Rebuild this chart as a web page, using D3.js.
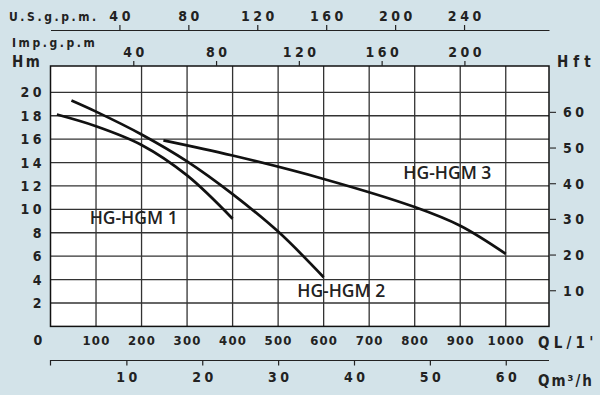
<!DOCTYPE html>
<html>
<head>
<meta charset="utf-8">
<script src="https://cdn.jsdelivr.net/npm/d3@7"></script>
<style>
  body { margin: 0; background: #d3e3e9; overflow: hidden; }
  svg { display: block; }
  .num { font-family: "DejaVu Sans Condensed", "DejaVu Sans", sans-serif; font-weight: bold; font-size: 13px; fill: #222; }
  .unit { font-family: "DejaVu Sans Condensed", "DejaVu Sans", sans-serif; font-weight: bold; fill: #222; }
  .curve-label { font-family: "Open Sans", sans-serif; font-weight: 600; font-size: 17.5px; fill: #222; }
</style>
</head>
<body>
<div id="chart"></div>
<script>
// flow in L/min, head in m
const hgm1Flow = [14, 100, 200, 300, 400];
const hgm1Head = [18.1, 17.1, 15.5, 12.9, 9.2];
const hgm2Flow = [46, 100, 200, 300, 400, 500, 600];
const hgm2Head = [19.3, 18.35, 16.4, 14.1, 11.3, 8.1, 4.2];
const hgm3Flow = [248, 400, 600, 800, 900, 1000];
const hgm3Head = [15.9, 14.6, 12.6, 10.2, 8.6, 6.2];

const curveNames = ["HG-HGM 1", "HG-HGM 2", "HG-HGM 3"];
const labelFlow = [86, 542, 775];   // where the name starts (L/min, head m)
const labelHead = [9.3, 3.0, 13.1];

const flowTicks = [100, 200, 300, 400, 500, 600, 700, 800, 900, 1000];
const headTicks = [2, 4, 6, 8, 10, 12, 14, 16, 18, 20];
const ftTicks = [10, 20, 30, 40, 50, 60];
const usTicks = [40, 80, 120, 160, 200, 240];
const impTicks = [40, 80, 120, 160, 200];
const m3hTicks = [10, 20, 30, 40, 50, 60];

const W = 600, H = 395;
const x = d3.scaleLinear().domain([0, 1095]).range([50.5, 549]);
const y = d3.scaleLinear().domain([0, 22.25]).range([326.4, 66]);

const svg = d3.select("#chart").append("svg")
    .attr("width", W)
    .attr("height", H);

// plot area
svg.append("rect")
    .attr("x", x(0)).attr("y", y(22.25))
    .attr("width", x(1095) - x(0))
    .attr("height", y(0) - y(22.25))
    .attr("fill", "#fff");

svg.append("g")
    .selectAll("line")
    .data(flowTicks)
    .enter()
    .append("line")
    .attr("x1", d => x(d)).attr("x2", d => x(d))
    .attr("y1", y(0)).attr("y2", y(22.25))
    .attr("stroke", "#333").attr("stroke-width", 1.3);

svg.append("g")
    .selectAll("line")
    .data(headTicks)
    .enter()
    .append("line")
    .attr("x1", x(0)).attr("x2", x(1095))
    .attr("y1", d => y(d)).attr("y2", d => y(d))
    .attr("stroke", "#333").attr("stroke-width", 1.3);

svg.append("rect")
    .attr("x", x(0)).attr("y", y(22.25))
    .attr("width", x(1095) - x(0))
    .attr("height", y(0) - y(22.25))
    .attr("fill", "none")
    .attr("stroke", "#111").attr("stroke-width", 1.5);

// curves
const line = d3.line()
    .x(d => x(d[0]))
    .y(d => y(d[1]))
    .curve(d3.curveCatmullRom.alpha(0.5));

const curves = [
    d3.zip(hgm1Flow, hgm1Head),
    d3.zip(hgm2Flow, hgm2Head),
    d3.zip(hgm3Flow, hgm3Head)
];

svg.append("g")
    .selectAll("path")
    .data(curves)
    .enter()
    .append("path")
    .attr("d", line)
    .attr("fill", "none")
    .attr("stroke", "#111")
    .attr("stroke-width", 2.7);

svg.append("g")
    .selectAll("text")
    .data(curveNames)
    .enter()
    .append("text")
    .attr("class", "curve-label")
    .attr("x", (d, i) => x(labelFlow[i]))
    .attr("y", (d, i) => y(labelHead[i]))
    .attr("dy", "0.35em")
    .text(d => d);

// left Hm labels
svg.append("g")
    .selectAll("text")
    .data(headTicks)
    .enter()
    .append("text")
    .attr("class", "num")
    .attr("x", 45)
    .attr("y", d => y(d))
    .attr("dy", "0.36em")
    .attr("text-anchor", "end")
    .style("letter-spacing", "3.5px")
    .style("font-size", "14px")
    .text(d => d);

svg.append("text")
    .attr("class", "num")
    .attr("x", 38).attr("y", 340).attr("dy", "0.36em")
    .attr("text-anchor", "middle")
    .style("font-size", "14px")
    .text("0");

// bottom L/min labels
svg.append("g")
    .selectAll("text")
    .data(flowTicks)
    .enter()
    .append("text")
    .attr("class", "num")
    .attr("x", d => x(d) + 0.5)
    .attr("y", 340)
    .attr("dy", "0.36em")
    .attr("text-anchor", "middle")
    .style("letter-spacing", "1.2px")
    .text(d => d);

// right Hft axis
const yft = d => y(d * 0.3048);
const ftG = svg.append("g")
    .selectAll("g")
    .data(ftTicks)
    .enter()
    .append("g");
ftG.append("line")
    .attr("x1", 550).attr("x2", 556)
    .attr("y1", d => yft(d)).attr("y2", d => yft(d))
    .attr("stroke", "#333").attr("stroke-width", 1.2);
ftG.append("text")
    .attr("class", "num")
    .attr("x", 563)
    .attr("y", d => yft(d))
    .attr("dy", "0.36em")
    .style("letter-spacing", "3.5px")
    .style("font-size", "14px")
    .text(d => d);

// top US gpm axis
const xUs = d3.scaleLinear().domain([0, 1095 / 3.785]).range(x.range());
const usAxis = svg.append("g")
    .attr("transform", "translate(0,30)")
    .call(d3.axisTop(xUs).tickValues(usTicks).tickSize(5).tickSizeOuter(0).tickPadding(4));

// Imp gpm axis (ticks only, on plot top)
const xImp = d3.scaleLinear().domain([0, 1095 / 4.546]).range(x.range());
const impAxis = svg.append("g")
    .attr("transform", `translate(0,${y(22.25)})`)
    .call(d3.axisTop(xImp).tickValues(impTicks).tickSize(5).tickSizeOuter(0).tickPadding(4));
impAxis.select(".domain").remove();

// bottom m3/h axis
const xM3 = d3.scaleLinear().domain([0, 1095 * 60 / 1000]).range(x.range());
const m3Axis = svg.append("g")
    .attr("transform", "translate(0,360.5)")
    .call(d3.axisBottom(xM3).tickValues(m3hTicks).tickSize(5).tickSizeOuter(5).tickPadding(4));

[usAxis, impAxis, m3Axis].forEach(g => {
    g.selectAll("path, line").attr("stroke", "#222").attr("stroke-width", 1.2);
    g.selectAll("text")
        .attr("class", "num")
        .attr("fill", null)
        .attr("font-family", null)
        .attr("font-size", null)
        .style("font-size", "14px")
        .style("letter-spacing", "3.5px")
        .attr("dx", "1.7px");
});
m3Axis.selectAll("text").attr("dy", "0.9em");
m3Axis.select(".domain").attr("d", `M${x(0)},5V0H${x(1095)}`);

// unit labels
const units = [
    { t: "U.S.g.p.m.", x: 9, y: 17, s: 12, ls: 2.6 },
    { t: "Imp.g.p.m", x: 12, y: 43, s: 12, ls: 2.6 },
    { t: "Hm", x: 12, y: 62, s: 15, ls: 2.5 },
    { t: "Hft", x: 557, y: 62, s: 15, ls: 5 },
    { t: "QL/1'", x: 538, y: 343, s: 15, ls: 4.2 },
    { t: "Qm³/h", x: 538, y: 381, s: 15, ls: 2 }
];
svg.append("g")
    .selectAll("text")
    .data(units)
    .enter()
    .append("text")
    .attr("class", "unit")
    .attr("x", d => d.x)
    .attr("y", d => d.y)
    .attr("dy", "0.36em")
    .style("font-size", d => d.s + "px")
    .style("letter-spacing", d => d.ls + "px")
    .text(d => d.t);
</script>
</body>
</html>
